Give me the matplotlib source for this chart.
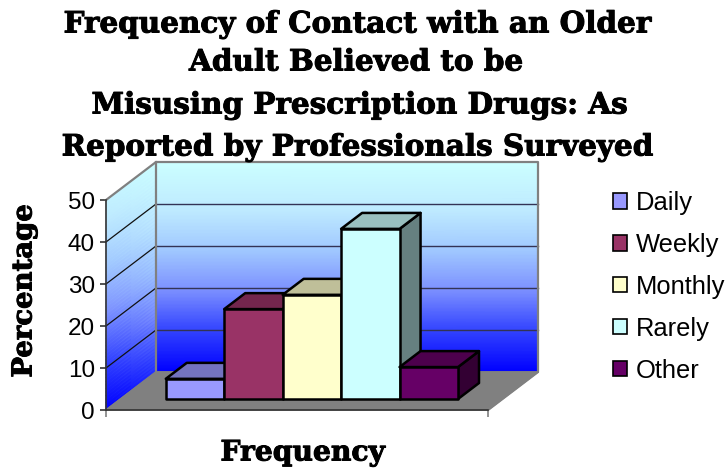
import numpy as np
import matplotlib
matplotlib.use('Agg')
import matplotlib.pyplot as plt
import matplotlib.patheffects as pe
from matplotlib.colors import LinearSegmentedColormap, to_rgb
from matplotlib.patches import Patch, Polygon

categories = ['Daily', 'Weekly', 'Monthly', 'Rarely', 'Other']
percentages = [4.8, 21.4, 24.8, 40.5, 7.6]
bar_colors = ['#9999FF', '#993366', '#FFFFCC', '#CCFFFF', '#660066']
y_ticks = [0, 10, 20, 30, 40, 50]
title_lines = ['Frequency of Contact with an Older',
               'Adult Believed to be',
               'Misusing Prescription Drugs: As',
               'Reported by Professionals Surveyed']

W, H = 728, 469
# how far the back wall is shifted from the front plane
DEPTH_X = 50 / 382
DEPTH_Y = 38 / 210 * 50
BAR_W = 0.153
BAR_START = 0.1185
SERIF = 'DejaVu Serif'
HEAVY = [pe.withStroke(linewidth=0.7, foreground='black')]

plt.rcParams['font.family'] = ['Liberation Sans', 'DejaVu Sans']

fig = plt.figure(figsize=(W / 100, H / 100), dpi=100)
ax = fig.add_axes([106 / W, 1 - 410 / H, 382 / W, 210 / H])
ax.set_xlim(0, 1)
ax.set_ylim(0, 50)
ax.patch.set_visible(False)


def skew(x, v, d):
    return x + d * DEPTH_X, v + d * DEPTH_Y


def face(points, **kw):
    xy = [skew(*p) for p in points]
    ax.add_patch(Polygon(xy, closed=True, clip_on=False, **kw))


wall_cmap = LinearSegmentedColormap.from_list(
    'wall', [(0, '#0000FF'), (0.2, '#3344FF'), (0.39, '#7C90FF'),
             (0.58, '#A0C8FF'), (0.77, '#BEEAFF'), (1, '#CCFFFF')])

# back wall
vv = np.linspace(0, 50, 60)
xx, vg = np.meshgrid([0, 1], vv)
bx, by = skew(xx, vg, 1)
ax.pcolormesh(bx, by, vg, cmap=wall_cmap, shading='gouraud', clip_on=False, zorder=1)

# left wall, its gradient runs straight up the screen
dd, vg2 = np.meshgrid([0, 1], vv)
sx, sy = skew(0 * dd, vg2, dd)
ax.pcolormesh(sx, sy, sy, cmap=wall_cmap, vmin=0, vmax=50 + DEPTH_Y, shading='gouraud',
              clip_on=False, zorder=1)

# floor
face([(0, 0, 0), (1, 0, 0), (1, 0, 1), (0, 0, 1)], facecolor='#808080',
     edgecolor='#808080', lw=1, zorder=1.5)

# gridlines on both walls
for t in y_ticks[1:-1]:
    gx, gy = skew(np.array([0, 1]), np.array([t, t]), 1)
    ax.plot(gx, gy, color='#333355', lw=1, clip_on=False, zorder=2)
    gx, gy = skew(np.array([0, 0]), np.array([t, t]), np.array([0, 1]))
    ax.plot(gx, gy, color='#111111', lw=0.9, clip_on=False, zorder=2)

# wall outline
outline = [(0, 50, 0), (0, 50, 1), (1, 50, 1), (1, 0, 1), (1, 0, 0)]
ox, oy = zip(*[skew(*p) for p in outline])
ax.plot(ox, oy, color='#808080', lw=1.6, clip_on=False, zorder=2)
ox, oy = zip(*[skew(*p) for p in [(0, 0, 1), (0, 50, 1)]])
ax.plot(ox, oy, color='#808080', lw=1.6, clip_on=False, zorder=2)
ox, oy = zip(*[skew(*p) for p in [(0, 0, 0), (0, 0, 1), (1, 0, 1)]])
ax.plot(ox, oy, color='#808080', lw=1.2, clip_on=False, zorder=2)

# bars, left to right so each one covers the last
d0, d1 = 0.29, 0.71
for i, (val, col) in enumerate(zip(percentages, bar_colors)):
    x0 = BAR_START + i * BAR_W
    x1 = x0 + BAR_W
    rgb = np.array(to_rgb(col))
    z = 3 + i
    kw = dict(edgecolor='black', lw=1.8, joinstyle='round', zorder=z)
    face([(x1, 0, d0), (x1, 0, d1), (x1, val, d1), (x1, val, d0)], facecolor=rgb * 0.5, **kw)
    face([(x0, val, d0), (x1, val, d0), (x1, val, d1), (x0, val, d1)], facecolor=rgb * 0.75, **kw)
    face([(x0, 0, d0), (x1, 0, d0), (x1, val, d0), (x0, val, d0)], facecolor=col, **kw)

for side in ['top', 'right']:
    ax.spines[side].set_visible(False)
for side in ['left', 'bottom']:
    ax.spines[side].set_color('#333333')
    ax.spines[side].set_linewidth(1.2)
    ax.spines[side].set_zorder(2.5)

ax.set_yticks(y_ticks)
ax.set_xticks([0, 1])
ax.set_xticklabels([])
ax.tick_params(axis='y', length=4, width=1.2, color='#333333', labelsize=17.5, pad=4)
ax.tick_params(axis='x', length=5, width=1.2, color='#808080')

# title, one line at a time because the lines sit unevenly
for line, x, y in zip(title_lines, [357, 356, 359, 357], [24, 62, 105, 147]):
    fig.text(x / W, 1 - y / H, line, family=SERIF, weight='bold', fontsize=21.2,
             ha='center', va='center', color='black', path_effects=HEAVY)

fig.text(24 / W, 1 - 291 / H, 'Percentage', family=SERIF, weight='bold', fontsize=19.8,
         rotation=90, ha='center', va='center', path_effects=HEAVY)
fig.text(303 / W, 1 - 453 / H, 'Frequency', family=SERIF, weight='bold', fontsize=20.3,
         ha='center', va='center', path_effects=HEAVY)

handles = [Patch(facecolor=c, edgecolor='black', lw=1.2) for c in bar_colors]
fig.legend(handles, categories, loc='upper left', bbox_to_anchor=(613 / W, 1 - 191 / H),
           frameon=False, fontsize=18.4, handlelength=0.55, handleheight=0.55,
           handletextpad=0.33, labelspacing=0.7, borderpad=0, borderaxespad=0)

fig.savefig('out.png', dpi=100)
